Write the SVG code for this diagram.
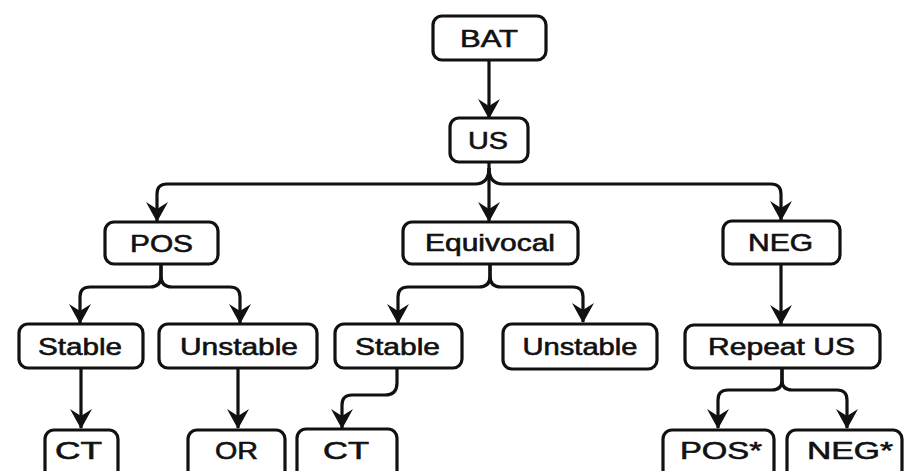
<svg xmlns="http://www.w3.org/2000/svg" width="906" height="471" viewBox="0 0 906 471">
<defs>
<style>
.box{fill:#fff;stroke:#111;stroke-width:3.2}
.lbl{font-family:"Liberation Sans",Arial,sans-serif;font-size:24px;fill:#111;stroke:#111;stroke-width:0.6;text-anchor:middle}
.edge{fill:none;stroke:#111;stroke-width:3.2}
</style>
<marker id="arr" viewBox="0 0 20 22" refX="19" refY="11" markerWidth="20" markerHeight="22" markerUnits="userSpaceOnUse" orient="auto">
<path d="M20,11 L0,0 L7,11 L0,22 Z" fill="#111"/>
</marker>
</defs>
<rect width="906" height="471" fill="#fff"/>
<g id="connectors">
<path class="edge" d="M489,60 V118" marker-end="url(#arr)"/>
<path class="edge" d="M489,162 V221" marker-end="url(#arr)"/>
<path class="edge" d="M489,168 Q489,184 475,184 H167 Q157,184 157,194 V221" marker-end="url(#arr)"/>
<path class="edge" d="M489,168 Q489,184 503,184 H771 Q781,184 781,194 V220" marker-end="url(#arr)"/>
<path class="edge" d="M161,264 V276 Q161,287 150,287 H90 Q80,287 80,297 V323" marker-end="url(#arr)"/>
<path class="edge" d="M161,264 V276 Q161,287 172,287 H230 Q240,287 240,297 V323" marker-end="url(#arr)"/>
<path class="edge" d="M490,264 V276 Q490,287 479,287 H408 Q398,287 398,297 V323" marker-end="url(#arr)"/>
<path class="edge" d="M490,264 V276 Q490,287 501,287 H573 Q583,287 583,297 V322" marker-end="url(#arr)"/>
<path class="edge" d="M781,264 V324" marker-end="url(#arr)"/>
<path class="edge" d="M81,368 V428" marker-end="url(#arr)"/>
<path class="edge" d="M238,368 V428" marker-end="url(#arr)"/>
<path class="edge" d="M397,368 V383 Q397,395 385,395 H352 Q342,395 342,405 V428" marker-end="url(#arr)"/>
<path class="edge" d="M782,368 V380 Q782,390 772,390 H728 Q718,390 718,400 V428" marker-end="url(#arr)"/>
<path class="edge" d="M782,368 V380 Q782,390 792,390 H837 Q847,390 847,400 V428" marker-end="url(#arr)"/>
</g>
<g id="BAT"><rect class="box" x="433" y="16" width="113" height="44" rx="9"/><text class="lbl" x="489" y="47" textLength="58" lengthAdjust="spacingAndGlyphs">BAT</text></g>
<g id="US"><rect class="box" x="450" y="118" width="78" height="44" rx="9"/><text class="lbl" x="488" y="149" textLength="40" lengthAdjust="spacingAndGlyphs">US</text></g>
<g id="POS"><rect class="box" x="105" y="222" width="113" height="42" rx="9"/><text class="lbl" x="161.5" y="252" textLength="63" lengthAdjust="spacingAndGlyphs">POS</text></g>
<g id="Equivocal"><rect class="box" x="403" y="222" width="175" height="42" rx="9"/><text class="lbl" x="490" y="251" textLength="130" lengthAdjust="spacingAndGlyphs">Equivocal</text></g>
<g id="NEG"><rect class="box" x="723" y="221" width="117" height="43" rx="9"/><text class="lbl" x="780.5" y="251" textLength="65" lengthAdjust="spacingAndGlyphs">NEG</text></g>
<g id="Stable1"><rect class="box" x="19" y="324" width="124" height="44" rx="9"/><text class="lbl" x="80" y="355" textLength="84" lengthAdjust="spacingAndGlyphs">Stable</text></g>
<g id="Unstable1"><rect class="box" x="159" y="324" width="158" height="44" rx="9"/><text class="lbl" x="239" y="355" textLength="118" lengthAdjust="spacingAndGlyphs">Unstable</text></g>
<g id="Stable2"><rect class="box" x="335" y="324" width="127" height="44" rx="9"/><text class="lbl" x="397.5" y="355" textLength="85" lengthAdjust="spacingAndGlyphs">Stable</text></g>
<g id="Unstable2"><rect class="box" x="503" y="324" width="154" height="45" rx="9"/><text class="lbl" x="580" y="355" textLength="115" lengthAdjust="spacingAndGlyphs">Unstable</text></g>
<g id="RepeatUS"><rect class="box" x="685" y="325" width="195" height="43" rx="9"/><text class="lbl" x="781.5" y="355" textLength="147" lengthAdjust="spacingAndGlyphs">Repeat US</text></g>
<g id="CT1"><rect class="box" x="45" y="430" width="73" height="50" rx="9"/><text class="lbl" x="78.5" y="459" textLength="47" lengthAdjust="spacingAndGlyphs">CT</text></g>
<g id="OR"><rect class="box" x="188" y="430" width="97" height="50" rx="9"/><text class="lbl" x="236.5" y="459" textLength="43" lengthAdjust="spacingAndGlyphs">OR</text></g>
<g id="CT2"><rect class="box" x="297" y="429" width="100" height="51" rx="9"/><text class="lbl" x="346" y="459" textLength="46" lengthAdjust="spacingAndGlyphs">CT</text></g>
<g id="POSstar"><rect class="box" x="663" y="430" width="111" height="50" rx="9"/><text class="lbl" x="721" y="459" textLength="82" lengthAdjust="spacingAndGlyphs">POS*</text></g>
<g id="NEGstar"><rect class="box" x="787" y="430" width="115" height="50" rx="9"/><text class="lbl" x="850" y="459" textLength="86" lengthAdjust="spacingAndGlyphs">NEG*</text></g>
</svg>
